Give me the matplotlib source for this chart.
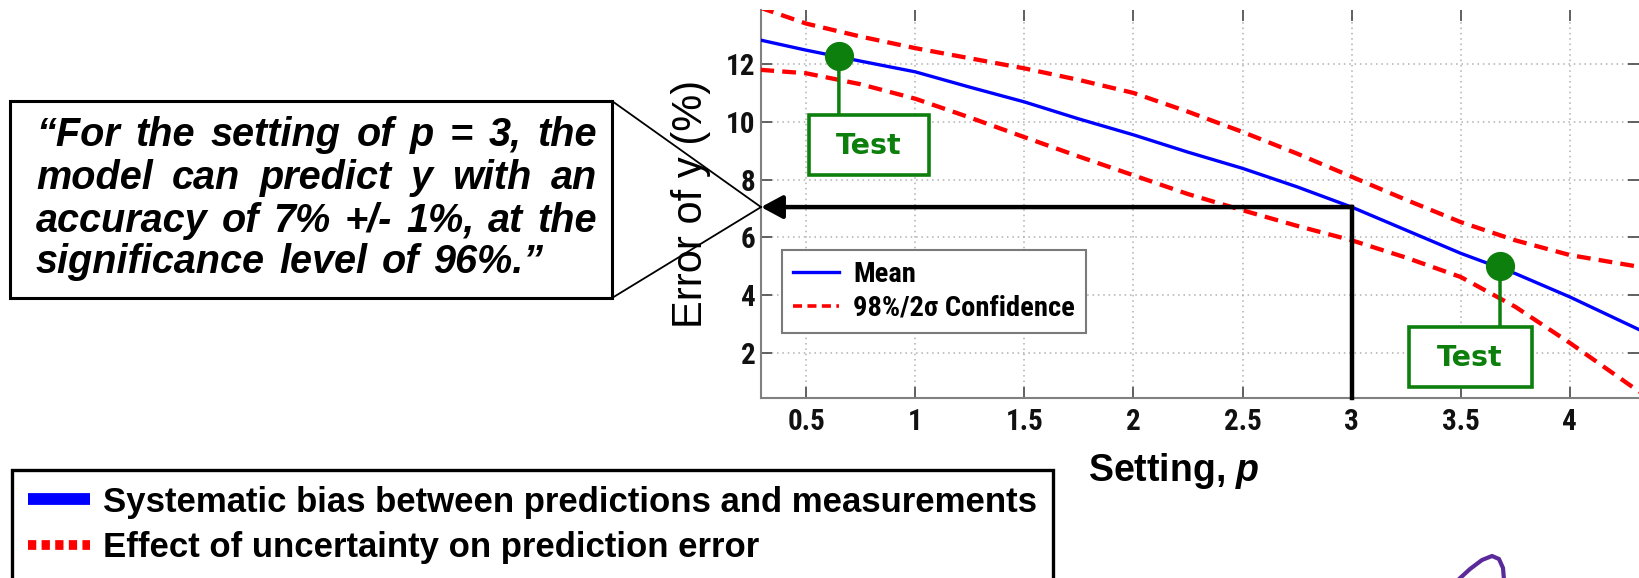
import numpy as np
import matplotlib
matplotlib.use('Agg')
import matplotlib.pyplot as plt
from matplotlib import font_manager
from matplotlib.font_manager import FontProperties
from matplotlib.lines import Line2D
from matplotlib.patches import Rectangle
from matplotlib.transforms import Affine2D

# ---------------- data ----------------
p_values = [0.29, 0.5, 0.75, 1.0, 1.25, 1.5, 1.75, 2.0, 2.25, 2.5, 2.75, 3.0, 3.25, 3.5, 3.75, 4.0, 4.32]
mean_error = [12.83, 12.48, 12.1, 11.73, 11.2, 10.69, 10.1, 9.55, 8.95, 8.39, 7.75, 7.05, 6.25, 5.45, 4.75, 3.94, 2.8]
upper_conf = [13.95, 13.4, 12.95, 12.55, 12.2, 11.85, 11.45, 11.0, 10.35, 9.65, 8.9, 8.1, 7.3, 6.53, 5.9, 5.39, 4.98]
lower_conf = [11.8, 11.68, 11.3, 10.8, 10.15, 9.47, 8.8, 8.15, 7.5, 6.94, 6.4, 5.9, 5.3, 4.63, 3.6, 2.35, 0.65]
test_p = [0.65, 3.68]
test_err = [12.27, 5.0]
setting_p = 3.0
setting_err = 7.05
x_ticks = [0.5, 1.0, 1.5, 2.0, 2.5, 3.0, 3.5, 4.0]
x_tick_labels = ['0.5', '1', '1.5', '2', '2.5', '3', '3.5', '4']
y_ticks = [2, 4, 6, 8, 10, 12]
y_tick_labels = ['2', '4', '6', '8', '10', '12']
legend_labels = ['Mean', '98%/2σ Confidence']
key_labels = ['Systematic bias between predictions and measurements',
              'Effect of uncertainty on prediction error']
quote_lines = ['\u201cFor the setting of p = 3, the',
               'model can predict y with an',
               'accuracy of 7% +/- 1%, at the',
               'significance level of 96%.\u201d']
x_label = 'Setting, $p$'
y_label = 'Error of y (%)'
test_label = 'Test'

# ---------------- fonts ----------------
plt.rcParams['font.family'] = ['Liberation Sans', 'DejaVu Sans']
plt.rcParams['mathtext.fontset'] = 'custom'
plt.rcParams['mathtext.it'] = 'Liberation Sans:italic:bold'
plt.rcParams['mathtext.rm'] = 'Liberation Sans:bold'

ttf = font_manager.fontManager.ttflist
names = {f.name for f in ttf}
narrow = None
for cand in ['Liberation Sans Narrow', 'Arial Narrow', 'Roboto Condensed', 'Open Sans Condensed',
             'Noto Sans Condensed', 'DejaVu Sans Condensed']:
    if cand in names:
        narrow = (cand, 'normal')
        break
if narrow is None:
    for f in ttf:
        if f.stretch in ('condensed', 'semi-condensed', 'extra-condensed') and \
                f.name in ('Noto Sans', 'Roboto', 'Open Sans', 'DejaVu Sans', 'Liberation Sans'):
            narrow = (f.name, f.stretch)
            break

if narrow is not None:
    tick_fp = FontProperties(family=[narrow[0], 'DejaVu Sans'], stretch=narrow[1], weight='bold', size=21)
    leg_fp = FontProperties(family=[narrow[0], 'DejaVu Sans'], stretch=narrow[1], weight='bold', size=20.5)
    leg_hl, leg_ls = 1.6, 0.22
else:
    tick_fp = FontProperties(family=['Liberation Sans', 'DejaVu Sans'], weight='bold', size=18)
    leg_fp = FontProperties(family=['Liberation Sans', 'DejaVu Sans'], weight='bold', size=16.5)
    leg_hl, leg_ls = 1.95, 0.42

BLUE = '#0000ff'
RED = '#ff0000'
GREEN = '#0c7f0c'

W, H = 1639, 578
fig = plt.figure(figsize=(W / 100, H / 100), dpi=100)
fig.patch.set_facecolor('white')

ax = fig.add_axes([761 / W, (H - 398) / H, (W - 761) / W, (398 - 10) / H])
ax.set_xlim(0.293, 4.317)
ax.set_ylim(0.443, 13.87)
ax.set_xticks(x_ticks)
ax.set_xticklabels(x_tick_labels, fontproperties=tick_fp)
ax.set_yticks(y_ticks)
ax.set_yticklabels(y_tick_labels, fontproperties=tick_fp)
ax.tick_params(direction='in', length=8, width=1.3, colors='#555555', labelcolor='#111111',
               top=True, right=True)
ax.tick_params(axis='x', pad=7)
ax.tick_params(axis='y', pad=4)
for s in ['top', 'right']:
    ax.spines[s].set_visible(False)
for s in ['left', 'bottom']:
    ax.spines[s].set_color('#808080')
    ax.spines[s].set_linewidth(1.5)
ax.grid(True, linestyle=(0, (1, 2.5)), color='#b0b0b0', linewidth=1.1)
ax.set_axisbelow(True)

# curves
ax.plot(p_values, upper_conf, color=RED, lw=3.1, dashes=(3.2, 1.9), zorder=3)
ax.plot(p_values, lower_conf, color=RED, lw=3.1, dashes=(3.2, 1.9), zorder=3)
ax.plot(p_values, mean_error, color=BLUE, lw=2.4, zorder=4)

# setting arrow and vertical line
x0, x1 = ax.get_xlim()
y0, y1 = ax.get_ylim()
ax.annotate('', xy=(x0, setting_err), xytext=(setting_p, setting_err),
            arrowprops=dict(arrowstyle='-|>,head_length=1.3,head_width=0.7', mutation_scale=10,
                            lw=3.2, color='black', shrinkA=0, shrinkB=0),
            annotation_clip=False, zorder=7)
ax.plot([setting_p, setting_p], [setting_err, y0], color='black', lw=3.2,
        solid_capstyle='projecting', clip_on=False, zorder=7)

# test points with stems and boxes
stem_len = [59, 61]
box_off = [(30, -89), (-30, -91)]
box_size = [(120, 60), (123, 60)]
for (tx, ty), sl, (dx, dy), (bw, bh) in zip(zip(test_p, test_err), stem_len, box_off, box_size):
    ax.annotate('', xy=(tx, ty), xytext=(0, -sl), textcoords='offset pixels',
                arrowprops=dict(arrowstyle='-', color=GREEN, lw=2.5, shrinkA=0, shrinkB=0),
                zorder=8)
    dxp, dyp = ax.transData.transform((tx, ty))
    rect = Rectangle((dx - bw / 2, dy - bh / 2), bw, bh, transform=Affine2D().translate(dxp, dyp),
                     facecolor='white', edgecolor=GREEN, lw=2.6, zorder=9, clip_on=False)
    ax.add_artist(rect)
    ax.annotate(test_label, xy=(tx, ty), xytext=(dx, dy - 1), textcoords='offset pixels',
                ha='center', va='center', color=GREEN, fontsize=20.5, fontweight='bold',
                family=['DejaVu Sans'], zorder=10, annotation_clip=False)
ax.plot(test_p, test_err, 'o', ms=20, color=GREEN, zorder=11, clip_on=False)

# in-axes legend
h_mean = Line2D([], [], color=BLUE, lw=2.4)
h_conf = Line2D([], [], color=RED, lw=2.6, dashes=(2.5, 1.5))
leg = ax.legend([h_mean, h_conf], legend_labels, loc='upper left',
                bbox_to_anchor=(782 / W, 1 - 250 / H), bbox_transform=fig.transFigure,
                borderaxespad=0, frameon=True, fancybox=False, edgecolor='#7a7a7a',
                prop=leg_fp, handlelength=leg_hl, handletextpad=0.5, labelspacing=leg_ls,
                borderpad=0.4, framealpha=1)
leg.get_frame().set_linewidth(1.5)
leg.set_zorder(12)

# axis labels
ax.set_ylabel(y_label, fontsize=30, fontweight='normal', color='black')
ax.yaxis.set_label_coords((711 - 761) / (W - 761), 0.5)
ax.set_xlabel(x_label, fontsize=27, fontweight='bold', color='black')
ax.xaxis.set_label_coords((1174 - 761) / (W - 761), (398 - 451) / (398 - 10))

# ---------------- overlay (pixel coordinates, origin top-left) ----------------
ov = fig.add_axes([0, 0, 1, 1], zorder=20)
ov.set_xlim(0, W)
ov.set_ylim(H, 0)
ov.axis('off')

tipx, tipy = ax.transData.transform((x0, setting_err))
tipy = H - tipy

# callout box
bx0, by0, bx1, by1 = 10, 101, 612, 298
ov.add_patch(Rectangle((bx0, by0), bx1 - bx0, by1 - by0, facecolor='white', edgecolor='black', lw=2.2))
ov.plot([bx1, tipx], [by0, tipy], color='black', lw=1.3)
ov.plot([bx1, tipx], [by1, tipy], color='black', lw=1.3)

# justified quote text
renderer = fig.canvas.get_renderer()
qfp = FontProperties(family=['Liberation Sans', 'DejaVu Sans'], weight='bold', style='italic', size=28.5)
left, right = 36, 597
baselines = [146, 189, 232, 273]
for i, (line, yb) in enumerate(zip(quote_lines, baselines)):
    words = line.split(' ')
    texts = [ov.text(0, yb, w, fontproperties=qfp, ha='left', va='baseline', color='black') for w in words]
    widths = [t.get_window_extent(renderer).width for t in texts]
    if i < len(quote_lines) - 1 and len(words) > 1:
        gap = (right - left - sum(widths)) / (len(words) - 1)
    else:
        sp = ov.text(0, 0, 'a a', fontproperties=qfp)
        sp2 = ov.text(0, 0, 'aa', fontproperties=qfp)
        gap = sp.get_window_extent(renderer).width - sp2.get_window_extent(renderer).width
        sp.remove(); sp2.remove()
        gap *= 1.3
    x = left
    for t, wdt in zip(texts, widths):
        t.set_x(x)
        x += wdt + gap

# decorative purple stroke at bottom right
ov.plot([1458, 1470, 1482, 1492, 1499, 1503, 1504], [580, 569, 560, 556, 559, 568, 580],
        color='#5a2a9a', lw=3, solid_capstyle='round')

# bottom key box
k_blue = Line2D([], [], color=BLUE, lw=8.5, solid_capstyle='butt')
k_red = Line2D([], [], color=RED, lw=7, dashes=(0.85, 0.55), dash_capstyle='butt')
kleg = fig.legend([k_blue, k_red], key_labels, loc='upper left',
                  bbox_to_anchor=(12 / W, 1 - 470 / H), bbox_transform=fig.transFigure,
                  borderaxespad=0, frameon=True, fancybox=False, edgecolor='black',
                  prop=FontProperties(family=['Liberation Sans', 'DejaVu Sans'], weight='bold', size=25),
                  handlelength=1.8, handletextpad=0.38, labelspacing=0.36, borderpad=0.45,
                  framealpha=1)
kleg.get_frame().set_linewidth(2.4)

fig.savefig('out.png', dpi=100)
